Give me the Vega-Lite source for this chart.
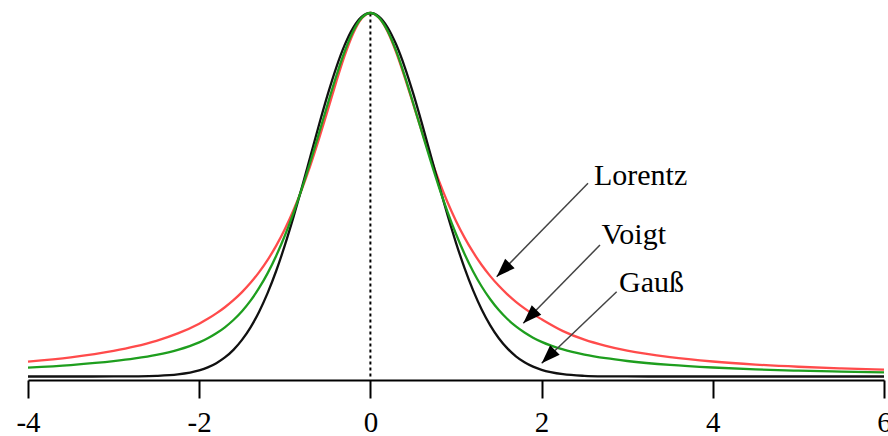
{
  "$schema": "https://vega.github.io/schema/vega-lite/v6.json",
  "width": 856,
  "height": 367,
  "padding": {"left": 28, "top": 13, "right": 4, "bottom": 56},
  "autosize": {"type": "none"},
  "background": "white",
  "config": {"view": {"stroke": null}},
  "datasets": {
    "curves": [
      {"x": -4, "L": 0.0408, "V": 0.0245, "G": 0},
      {"x": -3.5, "L": 0.0526, "V": 0.0316, "G": 0},
      {"x": -3, "L": 0.0703, "V": 0.0422, "G": 0.0001},
      {"x": -2.75, "L": 0.0826, "V": 0.0498, "G": 0.0005},
      {"x": -2.5, "L": 0.0982, "V": 0.0596, "G": 0.0017},
      {"x": -2.25, "L": 0.1185, "V": 0.0734, "G": 0.0057},
      {"x": -2, "L": 0.1454, "V": 0.094, "G": 0.0169},
      {"x": -1.9, "L": 0.1586, "V": 0.1052, "G": 0.0251},
      {"x": -1.8, "L": 0.1736, "V": 0.1189, "G": 0.0367},
      {"x": -1.7, "L": 0.1906, "V": 0.1354, "G": 0.0524},
      {"x": -1.6, "L": 0.21, "V": 0.1554, "G": 0.0734},
      {"x": -1.5, "L": 0.2322, "V": 0.1796, "G": 0.1007},
      {"x": -1.4, "L": 0.2577, "V": 0.2087, "G": 0.1353},
      {"x": -1.3, "L": 0.2871, "V": 0.2436, "G": 0.1783},
      {"x": -1.2, "L": 0.3209, "V": 0.2845, "G": 0.2301},
      {"x": -1.1, "L": 0.36, "V": 0.3324, "G": 0.2909},
      {"x": -1.0, "L": 0.405, "V": 0.3872, "G": 0.3605},
      {"x": -0.9, "L": 0.4566, "V": 0.449, "G": 0.4376},
      {"x": -0.8, "L": 0.5154, "V": 0.5174, "G": 0.5204},
      {"x": -0.7, "L": 0.5814, "V": 0.5914, "G": 0.6065},
      {"x": -0.6, "L": 0.654, "V": 0.6694, "G": 0.6926},
      {"x": -0.5, "L": 0.7314, "V": 0.7487, "G": 0.7748},
      {"x": -0.4, "L": 0.8097, "V": 0.8255, "G": 0.8493},
      {"x": -0.3, "L": 0.8832, "V": 0.8948, "G": 0.9123},
      {"x": -0.2, "L": 0.9445, "V": 0.9507, "G": 0.96},
      {"x": -0.1, "L": 0.9855, "V": 0.9873, "G": 0.9899},
      {"x": 0, "L": 1, "V": 1, "G": 1},
      {"x": 0.1, "L": 0.9868, "V": 0.9874, "G": 0.99},
      {"x": 0.2, "L": 0.9492, "V": 0.9514, "G": 0.9608},
      {"x": 0.3, "L": 0.8926, "V": 0.8963, "G": 0.9139},
      {"x": 0.4, "L": 0.8238, "V": 0.8277, "G": 0.8521},
      {"x": 0.5, "L": 0.7495, "V": 0.7517, "G": 0.7788},
      {"x": 0.6, "L": 0.6751, "V": 0.6732, "G": 0.6977},
      {"x": 0.7, "L": 0.6042, "V": 0.5956, "G": 0.6126},
      {"x": 0.8, "L": 0.5389, "V": 0.5219, "G": 0.5273},
      {"x": 0.9, "L": 0.4801, "V": 0.4538, "G": 0.4449},
      {"x": 1.0, "L": 0.4279, "V": 0.3919, "G": 0.3679},
      {"x": 1.1, "L": 0.382, "V": 0.337, "G": 0.2982},
      {"x": 1.2, "L": 0.3419, "V": 0.289, "G": 0.2369},
      {"x": 1.3, "L": 0.3068, "V": 0.2476, "G": 0.1845},
      {"x": 1.4, "L": 0.2762, "V": 0.2125, "G": 0.1409},
      {"x": 1.5, "L": 0.2495, "V": 0.1828, "G": 0.1054},
      {"x": 1.6, "L": 0.2261, "V": 0.1581, "G": 0.0773},
      {"x": 1.7, "L": 0.2056, "V": 0.1377, "G": 0.0556},
      {"x": 1.8, "L": 0.1876, "V": 0.1209, "G": 0.0392},
      {"x": 1.9, "L": 0.1716, "V": 0.1069, "G": 0.0271},
      {"x": 2.0, "L": 0.1575, "V": 0.0954, "G": 0.0183},
      {"x": 2.25, "L": 0.1249, "V": 0.0744, "G": 0.0063},
      {"x": 2.5, "L": 0.1014, "V": 0.0604, "G": 0.0019},
      {"x": 2.75, "L": 0.0844, "V": 0.0503, "G": 0.0005},
      {"x": 3, "L": 0.0711, "V": 0.0427, "G": 0.0001},
      {"x": 3.5, "L": 0.0532, "V": 0.0319, "G": 0},
      {"x": 4, "L": 0.0413, "V": 0.0248, "G": 0},
      {"x": 4.5, "L": 0.0329, "V": 0.0197, "G": 0},
      {"x": 5, "L": 0.0268, "V": 0.0161, "G": 0},
      {"x": 5.5, "L": 0.0223, "V": 0.0134, "G": 0},
      {"x": 6, "L": 0.0188, "V": 0.0113, "G": 0}
    ],
    "labels": [
      {"label": "Lorentz", "x0": 2.542, "y0": 0.5315, "x1": 1.475, "y1": 0.2746, "tx": 2.612, "ty": 0.527},
      {"label": "Voigt", "x0": 2.682, "y0": 0.3618, "x1": 1.786, "y1": 0.1464, "tx": 2.7, "ty": 0.3645},
      {"label": "Gauß", "x0": 2.877, "y0": 0.2333, "x1": 2.001, "y1": 0.0363, "tx": 2.904, "ty": 0.2333}
    ],
    "center": [
      {"x": 0, "ylo": 0, "yhi": 1}
    ]
  },
  "layer": [
    {
      "data": {"name": "center"},
      "mark": {"type": "rule", "color": "black", "strokeWidth": 2, "strokeDash": [3, 3]},
      "encoding": {
        "x": {"field": "x", "type": "quantitative", "scale": {"domain": [-4, 6], "nice": false},
          "axis": {"title": null, "values": [-4, -2, 0, 2, 4, 6], "grid": false,
            "domainColor": "black", "domainWidth": 2, "tickColor": "black", "tickWidth": 2, "tickSize": 18,
            "labelFont": "Liberation Serif", "labelFontSize": 29, "labelColor": "black",
            "labelBaseline": "alphabetic", "labelPadding": 33, "labelFlush": false, "labelOverlap": false,
            "labelBound": false, "labelExpr": "'' + datum.value"}},
        "y": {"field": "ylo", "type": "quantitative", "scale": {"domain": [-0.0096, 1], "nice": false, "zero": false}, "axis": null},
        "y2": {"field": "yhi"}
      }
    },
    {
      "data": {"name": "curves"},
      "mark": {"type": "line", "color": "#ff4b4b", "strokeWidth": 2.3, "interpolate": "monotone"},
      "encoding": {
        "x": {"field": "x", "type": "quantitative"},
        "y": {"field": "L", "type": "quantitative"}
      }
    },
    {
      "data": {"name": "curves"},
      "mark": {"type": "line", "color": "#111111", "strokeWidth": 2.3, "interpolate": "monotone"},
      "encoding": {
        "x": {"field": "x", "type": "quantitative"},
        "y": {"field": "G", "type": "quantitative"}
      }
    },
    {
      "data": {"name": "curves"},
      "mark": {"type": "line", "color": "#1e9e1e", "strokeWidth": 2.3, "interpolate": "monotone"},
      "encoding": {
        "x": {"field": "x", "type": "quantitative"},
        "y": {"field": "V", "type": "quantitative"}
      }
    },
    {
      "data": {"name": "labels"},
      "mark": {"type": "rule", "color": "#444444", "strokeWidth": 1.5},
      "encoding": {
        "x": {"field": "x0", "type": "quantitative"},
        "y": {"field": "y0", "type": "quantitative"},
        "x2": {"field": "x1"},
        "y2": {"field": "y1"}
      }
    },
    {
      "data": {"name": "labels"},
      "mark": {"type": "point", "shape": "M0,0L0.36,1L-0.36,1Z", "size": 1400, "angle": 225, "filled": true, "color": "black", "opacity": 1, "strokeWidth": 0},
      "encoding": {
        "x": {"field": "x1", "type": "quantitative"},
        "y": {"field": "y1", "type": "quantitative"}
      }
    },
    {
      "data": {"name": "labels"},
      "mark": {"type": "text", "align": "left", "baseline": "alphabetic", "font": "Liberation Serif", "fontSize": 30, "color": "black"},
      "encoding": {
        "x": {"field": "tx", "type": "quantitative"},
        "y": {"field": "ty", "type": "quantitative"},
        "text": {"field": "label"}
      }
    }
  ]
}
